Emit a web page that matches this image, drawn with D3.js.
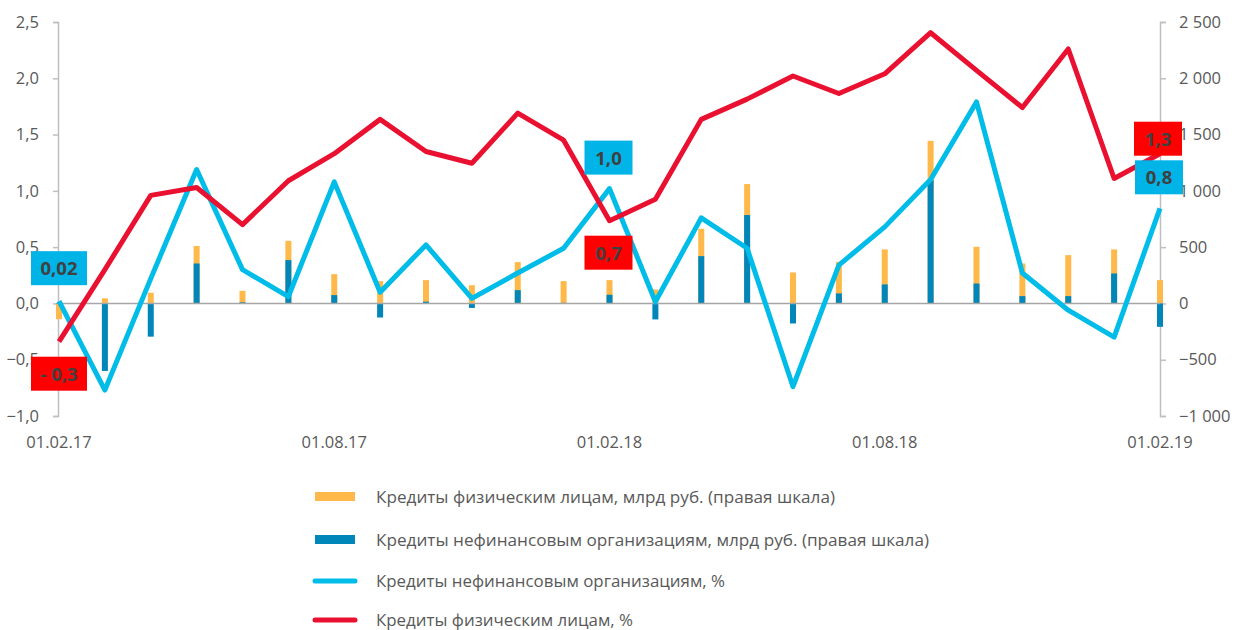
<!DOCTYPE html>
<html>
<head>
<meta charset="utf-8">
<script src="https://cdn.jsdelivr.net/npm/d3@7"></script>
<style>
  body { margin: 0; background: #fff; }
  text { font-family: "Open Sans", sans-serif; }
</style>
</head>
<body>
<div id="chart"></div>
<script>
var width = 1235, height = 630;

// months 01.02.17 .. 01.02.19
var dates = ["01.02.17","01.03.17","01.04.17","01.05.17","01.06.17","01.07.17","01.08.17","01.09.17","01.10.17","01.11.17","01.12.17","01.01.18",
  "01.02.18","01.03.18","01.04.18","01.05.18","01.06.18","01.07.18","01.08.18","01.09.18","01.10.18","01.11.18","01.12.18","01.01.19","01.02.19"];
var tickDates = ["01.02.17","01.08.17","01.02.18","01.08.18","01.02.19"];
var leftTicks = [-1, -0.5, 0, 0.5, 1, 1.5, 2, 2.5];
var rightTicks = [-1000, -500, 0, 500, 1000, 1500, 2000, 2500];

// bln rub (right scale)
var retailBln = [-140, 45, 95, 510, 112, 556, 260, 198, 207, 162, 367, 198, 207, 124, 663, 1060, 275, 370, 480, 1444, 503, 355, 429, 480, 207];
var corpBln = [5, -600, -295, 355, 10, 385, 74, -125, 15, -40, 118, 5, 77, -142, 420, 785, -178, 89, 169, 1095, 177, 65, 65, 266, -208];

// % (left scale)
var corpPct = [0.02, -0.77, 0.22, 1.19, 0.30, 0.06, 1.08, 0.10, 0.52, 0.045, 0.27, 0.49, 1.02, 0.015, 0.76, 0.49, -0.74, 0.34, 0.68, 1.10, 1.79, 0.27, -0.06, -0.30, 0.845];
var retailPct = [-0.34, 0.30, 0.96, 1.03, 0.70, 1.09, 1.33, 1.635, 1.35, 1.245, 1.69, 1.45, 0.735, 0.925, 1.635, 1.815, 2.02, 1.865, 2.04, 2.405, 2.07, 1.74, 2.26, 1.11, 1.33];

var legendNames = [
  "Кредиты физическим лицам, млрд руб. (правая шкала)",
  "Кредиты нефинансовым организациям, млрд руб. (правая шкала)",
  "Кредиты нефинансовым организациям, %",
  "Кредиты физическим лицам, %"
];

var cOrange = "#ffb84a", cBlue = "#0086b9", cCyan = "#00bce9", cRed = "#ea1030";

var svg = d3.select("#chart").append("svg")
  .attr("width", width).attr("height", height);

var x = d3.scalePoint().domain(dates).range([59, 1160]);
var yL = d3.scaleLinear().domain([-1, 2.5]).range([416, 22]);
var yR = d3.scaleLinear().domain([-1000, 2500]).range([416, 22]);

var fmtL = function(d) { return d3.format(".1f")(d).replace(".", ","); };
var fmtR = function(d) { return d3.format(",")(d).replace(/,/g, " "); };

// left axis
var gl = svg.append("g").attr("transform", "translate(58,0)")
  .call(d3.axisLeft(yL).tickValues(leftTicks).tickFormat(fmtL).tickSize(5).tickPadding(14));
// right axis
var gr = svg.append("g").attr("transform", "translate(1160,0)")
  .call(d3.axisRight(yR).tickValues(rightTicks).tickFormat(fmtR).tickSize(6).tickPadding(13));
[gl, gr].forEach(function(g) {
  g.select(".domain").attr("stroke", "#bfbfbf").attr("stroke-width", 1.5);
  g.selectAll(".tick line").attr("stroke", "#bfbfbf").attr("stroke-width", 1.5);
  g.selectAll(".tick text").attr("fill", "#595959").style("font-size", "16.5px");
});

// x labels
svg.append("g").selectAll("text").data(tickDates).enter().append("text")
  .attr("x", function(d) { return x(d); })
  .attr("y", 448)
  .attr("text-anchor", "middle")
  .attr("fill", "#595959")
  .style("font-size", "16.5px")
  .text(function(d) { return d; });

// bars (overlapped, blue in front)
var bw = 6;
svg.append("g").selectAll("rect").data(retailBln).enter().append("rect")
  .attr("x", function(d, i) { return x(dates[i]) - bw / 2; })
  .attr("y", function(d) { return yR(Math.max(0, d)); })
  .attr("width", bw)
  .attr("height", function(d) { return Math.abs(yR(d) - yR(0)); })
  .attr("fill", cOrange);
svg.append("g").selectAll("rect").data(corpBln).enter().append("rect")
  .attr("x", function(d, i) { return x(dates[i]) - bw / 2; })
  .attr("y", function(d) { return yR(Math.max(0, d)); })
  .attr("width", bw)
  .attr("height", function(d) { return Math.abs(yR(d) - yR(0)); })
  .attr("fill", cBlue);

// zero line
svg.append("line")
  .attr("x1", 58).attr("x2", 1160)
  .attr("y1", yL(0)).attr("y2", yL(0))
  .attr("stroke", "#a6a6a6").attr("stroke-width", 1.5);

// lines
var line = d3.line()
  .x(function(d, i) { return x(dates[i]); })
  .y(function(d) { return yL(d); });
svg.append("path").datum(corpPct)
  .attr("d", line).attr("fill", "none")
  .attr("stroke", cCyan).attr("stroke-width", 5).attr("stroke-linejoin", "round");
svg.append("path").datum(retailPct)
  .attr("d", line).attr("fill", "none")
  .attr("stroke", cRed).attr("stroke-width", 5).attr("stroke-linejoin", "round");

// value labels
var labels = [
  { i: 0, v: corpPct[0], t: "0,02", c: "#00b4e8", dx: 0, dy: -33 },
  { i: 0, v: retailPct[0], t: "- 0,3", c: "#ff0000", dx: 0, dy: 32 },
  { i: 12, v: corpPct[12], t: "1,0", c: "#00b4e8", dx: -1, dy: -31 },
  { i: 12, v: retailPct[12], t: "0,7", c: "#ff0000", dx: -1, dy: 32 },
  { i: 24, v: retailPct[24], t: "1,3", c: "#ff0000", dx: -2, dy: -15 },
  { i: 24, v: corpPct[24], t: "0,8", c: "#00b4e8", dx: -1, dy: -31 }
];
var lg = svg.append("g").selectAll("g").data(labels).enter().append("g")
  .attr("transform", function(d) { return "translate(" + (x(dates[d.i]) + d.dx) + "," + (yL(d.v) + d.dy) + ")"; });
lg.append("rect")
  .attr("x", function(d) { return d.t.length > 3 ? -28 : -24; })
  .attr("y", -17)
  .attr("width", function(d) { return d.t.length > 3 ? 56 : 48; })
  .attr("height", 34)
  .attr("fill", function(d) { return d.c; });
lg.append("text")
  .attr("y", 7)
  .attr("text-anchor", "middle")
  .attr("fill", "#404040")
  .style("font-size", "18.5px")
  .style("font-weight", "bold")
  .text(function(d) { return d.t; });

// legend
var legendWidths = [459, 553, 349, 257];
var leg = svg.append("g").selectAll("g").data(legendNames).enter().append("g")
  .attr("transform", function(d, i) { return "translate(0," + [497, 540, 581, 620][i] + ")"; });
leg.each(function(d, i) {
  var g = d3.select(this);
  if (i < 2) {
    g.append("rect").attr("x", 315).attr("y", -5).attr("width", 40).attr("height", 9)
      .attr("fill", i === 0 ? cOrange : cBlue);
  } else {
    g.append("line").attr("x1", 315).attr("x2", 355).attr("y1", 0).attr("y2", 0)
      .attr("stroke", i === 2 ? cCyan : cRed).attr("stroke-width", 5).attr("stroke-linecap", "round");
  }
  g.append("text").attr("x", 376).attr("y", 6)
    .attr("fill", "#595959").style("font-size", "17px")
    .attr("textLength", legendWidths[i]).attr("lengthAdjust", "spacingAndGlyphs")
    .text(d);
});
</script>
</body>
</html>
